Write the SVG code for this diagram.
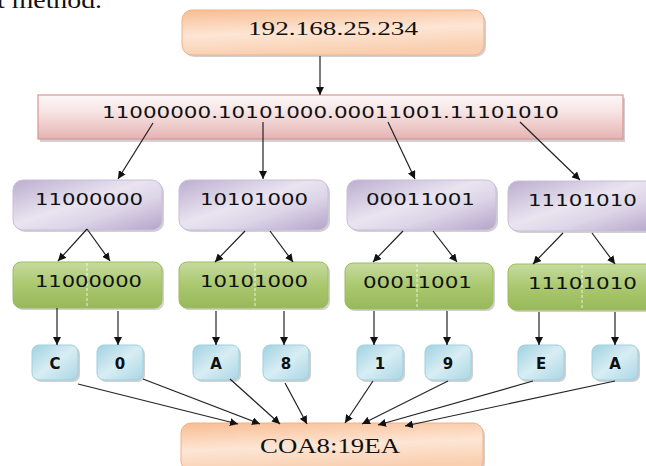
<svg xmlns="http://www.w3.org/2000/svg" width="646" height="466" viewBox="0 0 646 466">
  <defs>
    <linearGradient id="gOrange" x1="0" y1="0" x2="0.25" y2="1">
      <stop offset="0" stop-color="#f8bd92"/>
      <stop offset="0.55" stop-color="#fde6d5"/>
      <stop offset="1" stop-color="#f9cfb0"/>
    </linearGradient>
    <linearGradient id="gPink" x1="0" y1="0" x2="0" y2="1">
      <stop offset="0" stop-color="#fdf7f7"/>
      <stop offset="0.35" stop-color="#f8e6e6"/>
      <stop offset="1" stop-color="#e6b3b3"/>
    </linearGradient>
    <linearGradient id="gPurple" x1="0" y1="0" x2="1" y2="1">
      <stop offset="0" stop-color="#bcaed0"/>
      <stop offset="0.45" stop-color="#e9e4f0"/>
      <stop offset="0.65" stop-color="#ddd5e8"/>
      <stop offset="1" stop-color="#b4a4c9"/>
    </linearGradient>
    <linearGradient id="gGreen" x1="0" y1="0" x2="0" y2="1">
      <stop offset="0" stop-color="#c6dba0"/>
      <stop offset="0.5" stop-color="#aac86e"/>
      <stop offset="1" stop-color="#98b95a"/>
    </linearGradient>
    <linearGradient id="gBlue" x1="0" y1="0" x2="1" y2="1">
      <stop offset="0" stop-color="#9fd2e1"/>
      <stop offset="0.5" stop-color="#d8edf4"/>
      <stop offset="1" stop-color="#a9d6e4"/>
    </linearGradient>
    <marker id="arr" viewBox="0 0 10 10" refX="10" refY="5" markerWidth="8" markerHeight="8" markerUnits="userSpaceOnUse" orient="auto">
      <path d="M0,0 L10,5 L0,10 z" fill="#111"/>
    </marker>
  </defs>
  <style>
    .shadow { fill: #000; opacity: 0.18; }
    .orange { fill: url(#gOrange); stroke: #f2b088; stroke-width: 1; }
    .pink { fill: url(#gPink); stroke: #d99594; stroke-width: 1.2; }
    .purple { fill: url(#gPurple); stroke: #c9bddb; stroke-width: 1; }
    .green { fill: url(#gGreen); stroke: #9cbc5e; stroke-width: 1; }
    .blue { fill: url(#gBlue); stroke: #9fcfdd; stroke-width: 1; }
    .split { stroke: #ffffff; stroke-width: 1; stroke-dasharray: 3 2; opacity: 0.8; }
    .serif { font-family: "Liberation Serif", "Times New Roman", serif; fill: #111; }
    .bin { font-family: "DejaVu Sans", Verdana, sans-serif; font-size: 16.5px; fill: #111; }
    .hex { font-family: "DejaVu Sans", Verdana, sans-serif; font-size: 15px; font-weight: bold; fill: #111; text-anchor: middle; }
    .conn line { stroke: #222; stroke-width: 1.2; marker-end: url(#arr); }
  </style>

  <rect width="646" height="466" fill="#ffffff"/>

  <!-- tail of the preceding paragraph line -->
  <text class="serif" x="-3" y="8" font-size="24" textLength="105" lengthAdjust="spacingAndGlyphs">t method.</text>

  <!-- dotted-decimal address -->
  <g id="ip-decimal">
    <rect class="shadow" x="184" y="12" width="302" height="45" rx="10"/>
    <rect class="orange" x="182" y="10" width="302" height="45" rx="10"/>
    <text class="serif" x="248" y="35" font-size="19" textLength="170" lengthAdjust="spacingAndGlyphs">192.168.25.234</text>
  </g>

  <!-- binary address -->
  <g id="ip-binary">
    <rect class="shadow" x="40" y="98" width="585" height="44"/>
    <rect class="pink" x="38" y="95" width="585" height="44"/>
    <text class="bin" x="102" y="118" textLength="457" lengthAdjust="spacingAndGlyphs">11000000.10101000.00011001.11101010</text>
  </g>

  <!-- octets -->
  <g id="octet-1">
    <rect class="shadow" x="15" y="182" width="149" height="50" rx="10"/>
    <rect class="purple" x="13" y="180" width="149" height="50" rx="10"/>
    <text class="bin" x="35" y="205" textLength="108" lengthAdjust="spacingAndGlyphs">11000000</text>
  </g>
  <g id="octet-2">
    <rect class="shadow" x="181" y="182" width="149" height="50" rx="10"/>
    <rect class="purple" x="179" y="180" width="149" height="50" rx="10"/>
    <text class="bin" x="200" y="205" textLength="108" lengthAdjust="spacingAndGlyphs">10101000</text>
  </g>
  <g id="octet-3">
    <rect class="shadow" x="349" y="182" width="149" height="50" rx="10"/>
    <rect class="purple" x="347" y="180" width="149" height="50" rx="10"/>
    <text class="bin" x="366" y="205" textLength="109" lengthAdjust="spacingAndGlyphs">00011001</text>
  </g>
  <g id="octet-4">
    <rect class="shadow" x="510" y="183" width="150" height="50" rx="10"/>
    <rect class="purple" x="508" y="181" width="150" height="50" rx="10"/>
    <text class="bin" x="528" y="206" textLength="109" lengthAdjust="spacingAndGlyphs">11101010</text>
  </g>

  <!-- nibble splits -->
  <g id="split-1">
    <rect class="shadow" x="15" y="264" width="149" height="46" rx="8"/>
    <rect class="green" x="13" y="262" width="149" height="46" rx="8"/>
    <line class="split" x1="87" y1="263" x2="87" y2="307"/>
    <text class="bin" x="35" y="287" textLength="107" lengthAdjust="spacingAndGlyphs">11000000</text>
  </g>
  <g id="split-2">
    <rect class="shadow" x="181" y="264" width="149" height="46" rx="8"/>
    <rect class="green" x="179" y="262" width="149" height="46" rx="8"/>
    <line class="split" x1="255" y1="263" x2="255" y2="307"/>
    <text class="bin" x="200" y="287" textLength="108" lengthAdjust="spacingAndGlyphs">10101000</text>
  </g>
  <g id="split-3">
    <rect class="shadow" x="347" y="265" width="148" height="46" rx="8"/>
    <rect class="green" x="345" y="263" width="148" height="46" rx="8"/>
    <line class="split" x1="417" y1="264" x2="417" y2="308"/>
    <text class="bin" x="363" y="288" textLength="109" lengthAdjust="spacingAndGlyphs">00011001</text>
  </g>
  <g id="split-4">
    <rect class="shadow" x="510" y="266" width="150" height="46" rx="8"/>
    <rect class="green" x="508" y="264" width="150" height="46" rx="8"/>
    <line class="split" x1="582" y1="265" x2="582" y2="309"/>
    <text class="bin" x="528" y="289" textLength="109" lengthAdjust="spacingAndGlyphs">11101010</text>
  </g>

  <!-- hex digits -->
  <g id="hex-c">
    <rect class="shadow" x="34" y="347" width="46" height="35" rx="7"/>
    <rect class="blue" x="32" y="345" width="46" height="35" rx="7"/>
    <text class="hex" x="55" y="369">C</text>
  </g>
  <g id="hex-0">
    <rect class="shadow" x="99" y="347" width="46" height="35" rx="7"/>
    <rect class="blue" x="97" y="345" width="46" height="35" rx="7"/>
    <text class="hex" x="120" y="369">0</text>
  </g>
  <g id="hex-a1">
    <rect class="shadow" x="195" y="347" width="46" height="35" rx="7"/>
    <rect class="blue" x="193" y="345" width="46" height="35" rx="7"/>
    <text class="hex" x="216" y="369">A</text>
  </g>
  <g id="hex-8">
    <rect class="shadow" x="265" y="347" width="46" height="35" rx="7"/>
    <rect class="blue" x="263" y="345" width="46" height="35" rx="7"/>
    <text class="hex" x="286" y="369">8</text>
  </g>
  <g id="hex-1">
    <rect class="shadow" x="359" y="347" width="46" height="35" rx="7"/>
    <rect class="blue" x="357" y="345" width="46" height="35" rx="7"/>
    <text class="hex" x="380" y="369">1</text>
  </g>
  <g id="hex-9">
    <rect class="shadow" x="427" y="347" width="46" height="35" rx="7"/>
    <rect class="blue" x="425" y="345" width="46" height="35" rx="7"/>
    <text class="hex" x="448" y="369">9</text>
  </g>
  <g id="hex-e">
    <rect class="shadow" x="520" y="347" width="46" height="35" rx="7"/>
    <rect class="blue" x="518" y="345" width="46" height="35" rx="7"/>
    <text class="hex" x="541" y="369">E</text>
  </g>
  <g id="hex-a2">
    <rect class="shadow" x="594" y="347" width="46" height="35" rx="7"/>
    <rect class="blue" x="592" y="345" width="46" height="35" rx="7"/>
    <text class="hex" x="615" y="369">A</text>
  </g>

  <!-- hexadecimal result -->
  <g id="ip-hex">
    <rect class="shadow" x="183" y="425" width="302" height="48" rx="10"/>
    <rect class="orange" x="181" y="423" width="302" height="48" rx="10"/>
    <text class="serif" x="260" y="453" font-size="22" textLength="140" lengthAdjust="spacingAndGlyphs">COA8:19EA</text>
  </g>

  <g id="connectors" class="conn">
    <line x1="320" y1="56" x2="320" y2="95"/>

    <line x1="153" y1="123" x2="118" y2="179"/>
    <line x1="263" y1="122" x2="263" y2="179"/>
    <line x1="388" y1="122" x2="415" y2="179"/>
    <line x1="520" y1="122" x2="580" y2="180"/>

    <line x1="87" y1="229" x2="58" y2="261"/>
    <line x1="87" y1="229" x2="110" y2="261"/>
    <line x1="245" y1="231" x2="215" y2="262"/>
    <line x1="270" y1="231" x2="293" y2="262"/>
    <line x1="403" y1="231" x2="373" y2="262"/>
    <line x1="433" y1="231" x2="457" y2="262"/>
    <line x1="563" y1="233" x2="533" y2="264"/>
    <line x1="592" y1="233" x2="615" y2="264"/>

    <line x1="57" y1="308" x2="57" y2="345"/>
    <line x1="118" y1="311" x2="118" y2="345"/>
    <line x1="216" y1="311" x2="216" y2="345"/>
    <line x1="284" y1="311" x2="284" y2="345"/>
    <line x1="374" y1="311" x2="374" y2="345"/>
    <line x1="447" y1="311" x2="447" y2="345"/>
    <line x1="539" y1="312" x2="539" y2="345"/>
    <line x1="615" y1="312" x2="615" y2="345"/>

    <line x1="78" y1="384" x2="238" y2="424"/>
    <line x1="143" y1="379" x2="260" y2="424"/>
    <line x1="230" y1="379" x2="280" y2="424"/>
    <line x1="285" y1="383" x2="307" y2="424"/>
    <line x1="373" y1="381" x2="345" y2="423"/>
    <line x1="448" y1="381" x2="362" y2="424"/>
    <line x1="533" y1="381" x2="378" y2="425"/>
    <line x1="615" y1="381" x2="405" y2="426"/>
  </g>
</svg>
